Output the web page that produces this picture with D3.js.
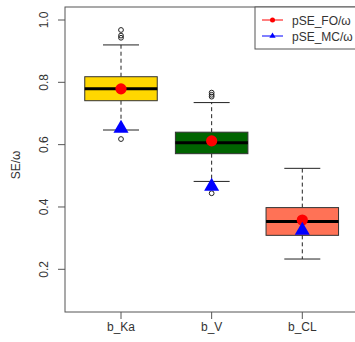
<!DOCTYPE html>
<html>
<head>
<meta charset="utf-8">
<script src="https://cdn.jsdelivr.net/npm/d3@7"></script>
<style>
  body { margin: 0; background: #fff; }
  text { font-family: "Liberation Sans", Arial, sans-serif; }
</style>
</head>
<body>
<script>
let categories = ["b_Ka", "b_V", "b_CL"];
let q1 = [0.741, 0.571, 0.309];
let medians = [0.779, 0.606, 0.353];
let q3 = [0.818, 0.640, 0.398];
let whiskerLo = [0.647, 0.482, 0.233];
let whiskerHi = [0.920, 0.735, 0.524];
let outliers = [[0.968, 0.950, 0.943, 0.618], [0.767, 0.760, 0.754, 0.444], []];
let pseFO = [0.779, 0.612, 0.358];
let pseMC = [0.652, 0.466, 0.325];
let boxColors = ["#FFD700", "#006400", "#FF7256"];
let yTicks = [0.2, 0.4, 0.6, 0.8, 1.0];
let legendLabels = ["pSE_FO/\u03c9", "pSE_MC/\u03c9"];

init();

function init() {
  let width = 355, height = 342,
      frame = {l: 65, t: 7, r: 362, b: 312};

  let svg = d3.select("body")
              .append("svg")
              .attr("width", width)
              .attr("height", height);

  let x = d3.scalePoint().domain(categories).range([121, 302.3]);
  let y = d3.scaleLinear().domain([0.2, 1.0]).range([269.3, 20]);
  let boxW = 72.5, capW = 36;

  // plot frame
  svg.append("rect")
     .attr("x", frame.l).attr("y", frame.t)
     .attr("width", frame.r - frame.l).attr("height", frame.b - frame.t)
     .attr("fill", "none").attr("stroke", "#555");

  // y axis
  let yAxis = svg.append("g");
  yAxis.selectAll("line")
       .data(yTicks).enter().append("line")
       .attr("x1", frame.l - 7).attr("x2", frame.l)
       .attr("y1", d => y(d)).attr("y2", d => y(d))
       .attr("stroke", "#555");
  yAxis.selectAll("text")
       .data(yTicks).enter().append("text")
       .attr("transform", d => "translate(47.5," + y(d) + ") rotate(-90)")
       .attr("text-anchor", "middle")
       .attr("font-size", 12)
       .attr("fill", "#333")
       .text(d => d.toFixed(1));

  svg.append("text")
     .attr("transform", "translate(19.5,165) rotate(-90)")
     .attr("text-anchor", "middle")
     .attr("font-size", 12)
     .attr("fill", "#333")
     .text("SE/\u03c9");

  // x axis
  let xAxis = svg.append("g");
  xAxis.selectAll("line")
       .data(categories).enter().append("line")
       .attr("x1", d => x(d)).attr("x2", d => x(d))
       .attr("y1", frame.b).attr("y2", frame.b + 7)
       .attr("stroke", "#555");
  xAxis.selectAll("text")
       .data(categories).enter().append("text")
       .attr("x", d => x(d)).attr("y", 331)
       .attr("text-anchor", "middle")
       .attr("font-size", 12)
       .attr("fill", "#333")
       .text(d => d);

  // boxes
  let boxes = svg.selectAll(".box")
                 .data(categories).enter().append("g")
                 .attr("class", "box");

  boxes.append("line")
       .attr("x1", d => x(d)).attr("x2", d => x(d))
       .attr("y1", (d, i) => y(q3[i])).attr("y2", (d, i) => y(whiskerHi[i]))
       .attr("stroke", "#222").attr("stroke-dasharray", "4,3");
  boxes.append("line")
       .attr("x1", d => x(d)).attr("x2", d => x(d))
       .attr("y1", (d, i) => y(q1[i])).attr("y2", (d, i) => y(whiskerLo[i]))
       .attr("stroke", "#222").attr("stroke-dasharray", "4,3");
  boxes.append("line")
       .attr("x1", d => x(d) - capW / 2).attr("x2", d => x(d) + capW / 2)
       .attr("y1", (d, i) => y(whiskerHi[i])).attr("y2", (d, i) => y(whiskerHi[i]))
       .attr("stroke", "#222");
  boxes.append("line")
       .attr("x1", d => x(d) - capW / 2).attr("x2", d => x(d) + capW / 2)
       .attr("y1", (d, i) => y(whiskerLo[i])).attr("y2", (d, i) => y(whiskerLo[i]))
       .attr("stroke", "#222");
  boxes.append("rect")
       .attr("x", d => x(d) - boxW / 2)
       .attr("y", (d, i) => y(q3[i]))
       .attr("width", boxW)
       .attr("height", (d, i) => y(q1[i]) - y(q3[i]))
       .attr("fill", (d, i) => boxColors[i])
       .attr("stroke", "#333");
  boxes.append("line")
       .attr("x1", d => x(d) - boxW / 2).attr("x2", d => x(d) + boxW / 2)
       .attr("y1", (d, i) => y(medians[i])).attr("y2", (d, i) => y(medians[i]))
       .attr("stroke", "#000").attr("stroke-width", 3);

  boxes.each(function(d, i) {
    d3.select(this).selectAll("circle.out")
      .data(outliers[i]).enter().append("circle")
      .attr("class", "out")
      .attr("cx", x(d)).attr("cy", v => y(v))
      .attr("r", 2.4)
      .attr("fill", "none").attr("stroke", "#222");
  });

  // pSE points
  let tri = (cx, cy, r) => {
    let h = r * 0.866;
    return "M" + cx + "," + (cy - r) + "L" + (cx + h) + "," + (cy + r / 2) +
           "L" + (cx - h) + "," + (cy + r / 2) + "Z";
  };

  svg.selectAll(".fo")
     .data(categories).enter().append("circle")
     .attr("class", "fo")
     .attr("cx", d => x(d)).attr("cy", (d, i) => y(pseFO[i]))
     .attr("r", 5.6)
     .attr("fill", "#FF0000");

  svg.selectAll(".mc")
     .data(categories).enter().append("path")
     .attr("class", "mc")
     .attr("d", (d, i) => tri(x(d), y(pseMC[i]), 8.7))
     .attr("fill", "#0000FF");

  // legend
  let lg = svg.append("g");
  lg.append("rect")
    .attr("x", 255).attr("y", frame.t)
    .attr("width", 120).attr("height", 42)
    .attr("fill", "#fff").attr("stroke", "#555");
  let legColors = ["#FF0000", "#0000FF"];
  let items = lg.selectAll(".item")
                .data(legendLabels).enter().append("g")
                .attr("transform", (d, i) => "translate(0," + (20 + i * 16) + ")");
  items.append("line")
       .attr("x1", 262).attr("x2", 283)
       .attr("stroke", (d, i) => legColors[i]);
  items.filter((d, i) => i === 0).append("circle")
       .attr("cx", 272.5).attr("r", 2.5).attr("fill", "#FF0000");
  items.filter((d, i) => i === 1).append("path")
       .attr("d", tri(272.5, 0, 3.6)).attr("fill", "#0000FF");
  items.append("text")
       .attr("x", 292).attr("y", 4.5)
       .attr("font-size", 12)
       .attr("fill", "#333")
       .text(d => d);
}
</script>
</body>
</html>
